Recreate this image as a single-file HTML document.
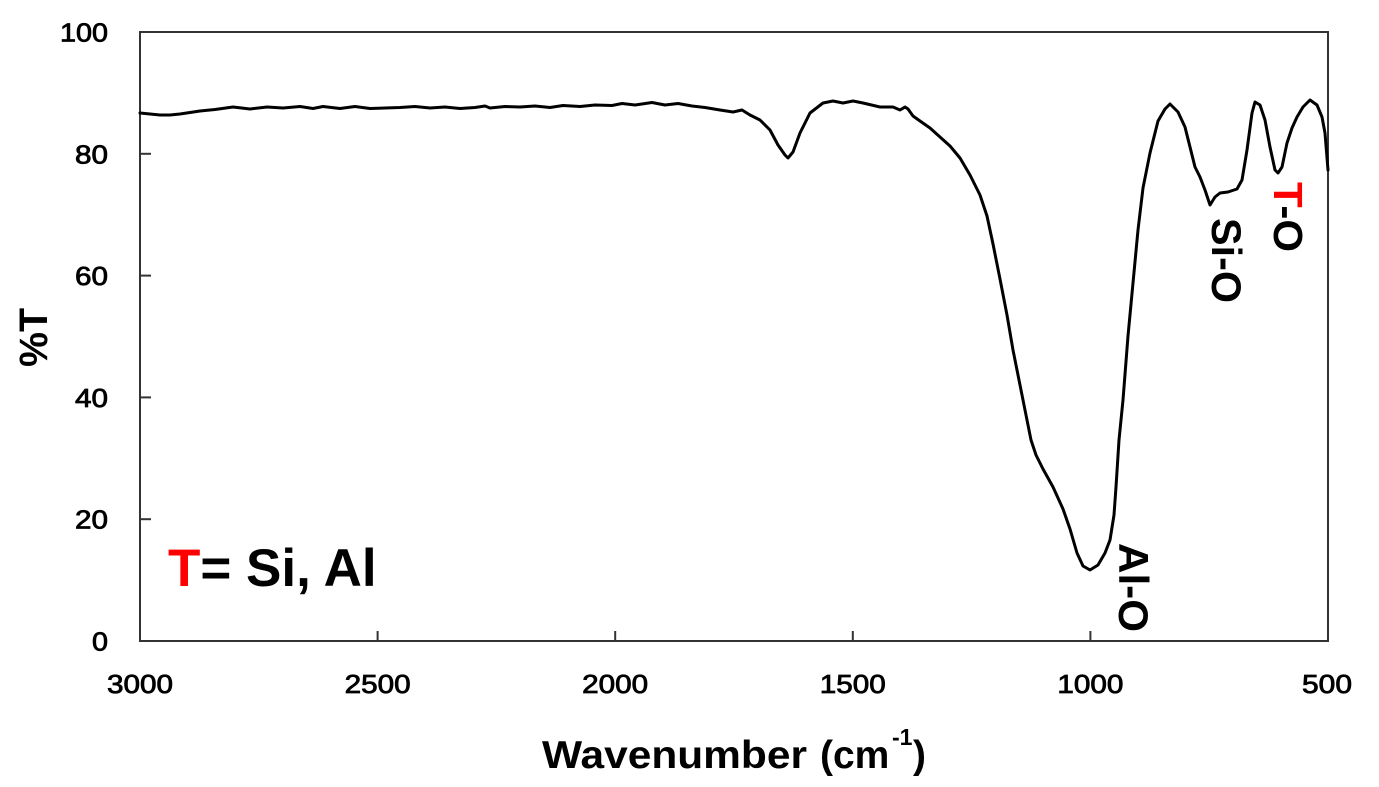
<!DOCTYPE html>
<html><head><meta charset="utf-8"><style>
html,body{margin:0;padding:0;background:#fff;}
svg{display:block;}
text{font-family:"Liberation Sans",Arial,sans-serif;}
</style></head><body>
<svg width="1379" height="787" viewBox="0 0 1379 787" xmlns="http://www.w3.org/2000/svg">
<rect width="1379" height="787" fill="#fff"/>
<!-- frame -->
<rect x="140" y="32" width="1188" height="609" fill="none" stroke="#333" stroke-width="2"/>
<!-- ticks -->
<g stroke="#333" stroke-width="2">
<line x1="140" y1="153.8" x2="151" y2="153.8"/>
<line x1="140" y1="275.6" x2="151" y2="275.6"/>
<line x1="140" y1="397.4" x2="151" y2="397.4"/>
<line x1="140" y1="519.2" x2="151" y2="519.2"/>
<line x1="377.6" y1="631" x2="377.6" y2="641"/>
<line x1="615.2" y1="631" x2="615.2" y2="641"/>
<line x1="852.8" y1="631" x2="852.8" y2="641"/>
<line x1="1090.4" y1="631" x2="1090.4" y2="641"/>
</g>
<!-- y labels -->
<g font-size="26" fill="#000" stroke="#000" stroke-width="0.8" text-anchor="end">
<text x="108" y="41.5" textLength="48" lengthAdjust="spacingAndGlyphs">100</text>
<text x="108" y="163.3" textLength="33" lengthAdjust="spacingAndGlyphs">80</text>
<text x="108" y="285.1" textLength="33" lengthAdjust="spacingAndGlyphs">60</text>
<text x="108" y="406.9" textLength="33" lengthAdjust="spacingAndGlyphs">40</text>
<text x="108" y="528.7" textLength="33" lengthAdjust="spacingAndGlyphs">20</text>
<text x="108" y="650.5" textLength="16" lengthAdjust="spacingAndGlyphs">0</text>
</g>
<!-- x labels -->
<g font-size="26" fill="#000" stroke="#000" stroke-width="0.8">
<text x="107" y="693" textLength="66" lengthAdjust="spacingAndGlyphs">3000</text>
<text x="344.6" y="693" textLength="66" lengthAdjust="spacingAndGlyphs">2500</text>
<text x="582.2" y="693" textLength="66" lengthAdjust="spacingAndGlyphs">2000</text>
<text x="819.8" y="693" textLength="66" lengthAdjust="spacingAndGlyphs">1500</text>
<text x="1057.4" y="693" textLength="66" lengthAdjust="spacingAndGlyphs">1000</text>
<text x="1302" y="693" textLength="50" lengthAdjust="spacingAndGlyphs">500</text>
</g>
<!-- axis titles -->
<g font-weight="bold" fill="#000">
<text x="542" y="768" font-size="39" textLength="265" lengthAdjust="spacingAndGlyphs">Wavenumber</text>
<text x="820" y="768" font-size="39">(cm</text>
<text x="892" y="745" font-size="23">-1</text>
<text x="913" y="768" font-size="39">)</text>
<text transform="translate(47,367) rotate(-90)" x="0" y="0" font-size="40" textLength="59" lengthAdjust="spacingAndGlyphs">%T</text>
</g>
<!-- annotations -->
<g font-weight="bold" fill="#000">
<text x="168" y="586" font-size="53"><tspan fill="#ff0000">T</tspan>= Si, Al</text>
<text transform="translate(1119,543) rotate(90)" x="0" y="0" font-size="42" textLength="89" lengthAdjust="spacingAndGlyphs">Al-O</text>
<text transform="translate(1212,218) rotate(90)" x="0" y="0" font-size="42" textLength="85" lengthAdjust="spacingAndGlyphs">Si-O</text>
<text transform="translate(1274,182) rotate(90)" x="0" y="0" font-size="41" textLength="70" lengthAdjust="spacingAndGlyphs"><tspan fill="#ff0000">T</tspan>-O</text>
</g>
<!-- spectrum -->
<polyline fill="none" stroke="#000" stroke-width="3" stroke-linejoin="round" stroke-linecap="round" points="
140,113 150,114 160,115 170,115 180,114 190,112.5 200,111 215,109.5 233,107 250,109 267,107 283,108
300,106.5 313,108.5 323,106.5 340,108.5 355,106.5 370,108.5 385,108 400,107.5 415,106.5 430,108 445,107
460,108.5 475,107.5 485,106 490,108 505,106.5 520,107 535,106 550,107.5 563,105.5 580,106.5 595,105
612,105.5 622,103.5 635,105 652,102.5 665,105 678,103.5 692,106 705,107.5 720,110 733,112 742,110
750,115 760,120 770,130 778,145 785,155 788,158 793,152 800,133 810,113 823,103 833,101 843,103 853,101
863,103 880,107 893,107 900,110 905,107 908,109 913,116 920,121 930,128 940,137 950,146 960,158 970,175
980,195 987,216 993,244 1000,279 1007,315 1013,350 1020,385 1027,420 1031,440 1036,455 1043,469 1053,487 1063,509
1070,529 1077,553 1083,566 1090,570 1098,565 1105,553 1110,540 1114,515 1116,487 1119,440 1121,420 1123,400
1128,336 1133,283 1138,230 1143,188 1150,153 1158,121 1165,109 1170,104 1178,112 1185,127 1190,147
1195,167 1200,177 1205,190 1210,205 1215,197 1220,193 1228,192 1237,189 1242,180 1247,150 1252,113
1255,102 1260,105 1265,120 1270,147 1275,170 1278,173 1282,167 1287,143 1292,128 1297,117 1303,107
1310,100 1317,105 1322,117 1325,133 1328,170"/>
</svg>
</body></html>
